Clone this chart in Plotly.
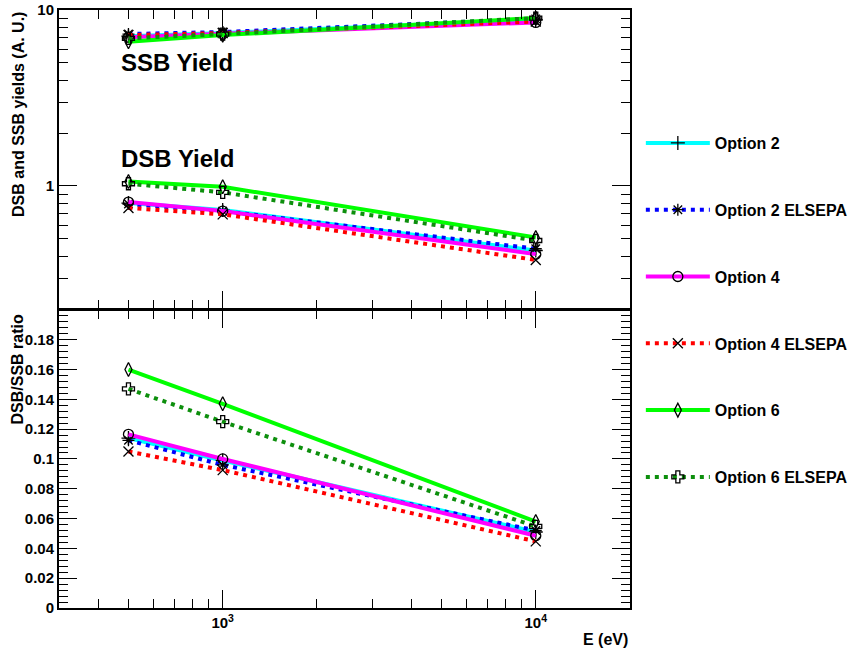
import plotly.graph_objects as go

# Beam energies (eV)
energy = [500, 1000, 10000]

# Single-strand-break yields (A. U.)
ssb = {
    "Option 2":        [7.1, 7.4, 8.8],
    "Option 2 ELSEPA": [7.3, 7.5, 8.9],
    "Option 4":        [7.0, 7.3, 8.5],
    "Option 4 ELSEPA": [7.2, 7.4, 8.6],
    "Option 6":        [6.6, 7.2, 9.0],
    "Option 6 ELSEPA": [6.9, 7.3, 9.0],
}

# Double-strand-break yields (A. U.)
dsb = {
    "Option 2":        [0.80, 0.73, 0.43],
    "Option 2 ELSEPA": [0.79, 0.72, 0.44],
    "Option 4":        [0.81, 0.72, 0.41],
    "Option 4 ELSEPA": [0.75, 0.69, 0.38],
    "Option 6":        [1.06, 0.99, 0.51],
    "Option 6 ELSEPA": [1.03, 0.92, 0.49],
}

# DSB/SSB ratio
ratio = {
    "Option 2":        [0.114, 0.099, 0.051],
    "Option 2 ELSEPA": [0.1125, 0.096, 0.052],
    "Option 4":        [0.1165, 0.100, 0.0485],
    "Option 4 ELSEPA": [0.105, 0.0925, 0.0447],
    "Option 6":        [0.160, 0.137, 0.058],
    "Option 6 ELSEPA": [0.147, 0.125, 0.0547],
}

# Series styling: line colour, dash pattern, marker symbol
styles = {
    "Option 2":        ("#00ffff", "solid",     "cross-thin-open"),
    "Option 2 ELSEPA": ("#0000ff", "4px,5px",   "asterisk-open"),
    "Option 4":        ("#ff00ff", "solid",     "circle-open"),
    "Option 4 ELSEPA": ("#ff0000", "4px,5px",   "x-thin-open"),
    "Option 6":        ("#00ff00", "solid",     "diamond-tall-open"),
    "Option 6 ELSEPA": ("#0d8f0d", "4px,5px",   "cross-open"),
}

x_tickvals = [1000, 10000]
x_ticktext = ["10<sup>3</sup>", "10<sup>4</sup>"]
x_minor = [400, 500, 600, 700, 800, 900, 2000, 3000, 4000, 5000,
           6000, 7000, 8000, 9000]
y1_tickvals = [1, 10]
y1_ticktext = ["1", "10"]
y1_minor = [0.3, 0.4, 0.5, 0.6, 0.7, 0.8, 0.9, 2, 3, 4, 5, 6, 7, 8, 9]
y2_tickvals = [0, 0.02, 0.04, 0.06, 0.08, 0.1, 0.12, 0.14, 0.16, 0.18]
y2_ticktext = ["0", "0.02", "0.04", "0.06", "0.08", "0.1", "0.12",
               "0.14", "0.16", "0.18"]
y2_minor = [round(i * 0.004, 3) for i in range(51)]

FONT = "Liberation Sans, Arial, Helvetica, sans-serif"

fig = go.Figure()

for name, (color, dash, symbol) in styles.items():
    marker = dict(symbol=symbol, size=10, color="black",
                  line=dict(color="black", width=1.3))
    line = dict(color=color, width=4, dash=dash)
    group = name
    # yields panel: SSB then DSB
    fig.add_trace(go.Scatter(x=energy, y=ssb[name], mode="lines+markers",
                             line=line, marker=marker, name=name,
                             legendgroup=group, showlegend=True,
                             xaxis="x", yaxis="y"))
    fig.add_trace(go.Scatter(x=energy, y=dsb[name], mode="lines+markers",
                             line=line, marker=marker, name=name,
                             legendgroup=group, showlegend=False,
                             xaxis="x", yaxis="y"))
    # ratio panel
    fig.add_trace(go.Scatter(x=energy, y=ratio[name], mode="lines+markers",
                             line=line, marker=marker, name=name,
                             legendgroup=group, showlegend=False,
                             xaxis="x2", yaxis="y2"))

tick_font = dict(family=FONT, size=15, color="black", weight="bold")
minor_style = dict(ticks="inside", ticklen=9, tickcolor="black",
                   showgrid=False)
common_x = dict(type="log", range=[2.4771, 4.30103], showline=True,
                linecolor="black", linewidth=2, mirror="ticks",
                ticks="inside", ticklen=18, tickwidth=1, tickcolor="black",
                tickvals=x_tickvals, ticktext=x_ticktext,
                minor=dict(minor_style, tickmode="array", tickvals=x_minor),
                showgrid=False, zeroline=False, tickfont=tick_font)

fig.update_layout(
    width=860, height=648,
    margin=dict(l=59, r=230, t=10, b=40, autoexpand=False),
    paper_bgcolor="white", plot_bgcolor="white",
    font=dict(family=FONT, color="black"),
    xaxis=dict(common_x, anchor="y", domain=[0, 1], showticklabels=False),
    xaxis2=dict(common_x, anchor="y2", domain=[0, 1], matches="x"),
    yaxis=dict(type="log", range=[-0.69897, 1], domain=[0.5, 1],
               showline=True, linecolor="black", linewidth=2,
               mirror="ticks", ticks="inside", ticklen=18,
               tickcolor="black", tickvals=y1_tickvals,
               ticktext=y1_ticktext,
               minor=dict(minor_style, tickmode="array", tickvals=y1_minor),
               showgrid=False, zeroline=False, tickfont=tick_font,
               anchor="x"),
    yaxis2=dict(range=[0, 0.2], domain=[0, 0.4985],
                showline=True, linecolor="black", linewidth=2,
                mirror="ticks", ticks="inside", ticklen=18,
                tickcolor="black", tickvals=y2_tickvals,
                ticktext=y2_ticktext,
                minor=dict(minor_style, tickmode="array", tickvals=y2_minor),
                showgrid=False, zeroline=False, tickfont=tick_font,
                anchor="x2"),
    legend=dict(x=1.019, y=0.806, xanchor="left", yanchor="top",
                font=dict(family=FONT, size=16, color="black",
                          weight="bold"),
                tracegroupgap=43, itemwidth=64, bgcolor="rgba(0,0,0,0)"),
    showlegend=True,
)

label_font = dict(family=FONT, size=16, color="black", weight="bold")
big_font = dict(family=FONT, size=24, color="black", weight="bold")

fig.add_annotation(text="SSB Yield", xref="paper", yref="paper",
                   x=0.105, y=0.912, xanchor="left", yanchor="middle",
                   showarrow=False, font=big_font)
fig.add_annotation(text="DSB Yield", xref="paper", yref="paper",
                   x=0.105, y=0.752, xanchor="left", yanchor="middle",
                   showarrow=False, font=big_font)
fig.add_annotation(text="DSB and SSB yields (A. U.)", textangle=-90,
                   xref="paper", yref="paper", x=-0.071, y=1.0,
                   xanchor="center", yanchor="top",
                   showarrow=False, font=label_font)
fig.add_annotation(text="DSB/SSB ratio", textangle=-90,
                   xref="paper", yref="paper", x=-0.071, y=0.495,
                   xanchor="center", yanchor="top",
                   showarrow=False, font=label_font)
fig.add_annotation(text="E (eV)", xref="paper", yref="paper",
                   x=1.0, y=-0.035, xanchor="right", yanchor="top",
                   showarrow=False, font=label_font)

fig.write_html("out.html")
